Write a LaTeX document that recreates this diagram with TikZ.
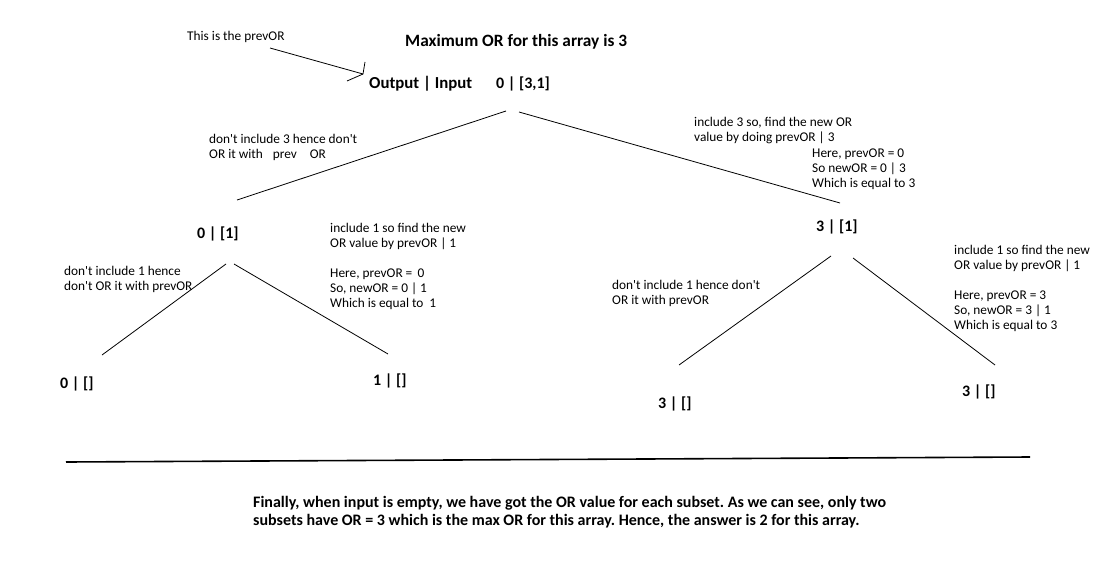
\documentclass[tikz,border=0pt]{standalone}
\usepackage{fontspec}
\setmainfont{Carlito}[Ligatures=TeXOff]
\frenchspacing
\begin{document}
\begin{tikzpicture}[x=1pt,y=-1pt,
  note/.style={anchor=base west,inner sep=0pt,align=left,font=\fontsize{13.33}{15}\selectfont},
  lbl/.style={anchor=base west,inner sep=0pt,font=\fontsize{16}{19}\selectfont\bfseries},
  titlestyle/.style={anchor=base west,inner sep=0pt,font=\fontsize{17.3}{20}\selectfont\bfseries},
  bottomstyle/.style={anchor=base west,inner sep=0pt,align=left,font=\fontsize{16}{18}\selectfont\bfseries},
  edge/.style={line width=0.8pt,black},
  rule/.style={line width=1.6pt,black}]
\useasboundingbox (0,0) rectangle (1099,578);
\fill[white] (0,0) rectangle (1099,578);

% texts (multi-line notes are anchored at the baseline of their last line)
\node[note] (prevnote) at (187,41) {This is the prevOR};
\node[titlestyle] (title) at (405,46) {Maximum OR for this array is 3};
\node[lbl,font=\fontsize{16.8}{19}\selectfont\bfseries] (legend) at (369,88) {Output | Input};
\node[lbl] (root) at (496,88) {0 | [3,1]};

\node[lbl] (l1) at (197,238) {0 | [1]};
\node[lbl] (r1) at (816,231) {3 | [1]};
\node[lbl] (ll) at (60,388) {0 | []};
\node[lbl] (lr) at (373,385) {1 | []};
\node[lbl] (rl) at (658,408) {3 | []};
\node[lbl] (rr) at (962,396) {3 | []};

\node[note] (noteA) at (209,158) {don't include 3 hence don't\\OR it with\hspace{10pt}prev\hspace{13pt}OR};
\node[note] (noteB) at (330,307) {include 1 so find the new\\OR value by prevOR | 1\\[15pt]Here, prevOR = \,0\\So, newOR = 0 | 1\\Which is equal to\hspace{6pt}1};
\node[note] (noteC) at (694,141) {include 3 so, find the new OR\\value by doing prevOR | 3};
\node[note] (noteD) at (812,187) {Here, prevOR = 0\\So newOR = 0 | 3\\Which is equal to 3};
\node[note] (noteE) at (64,290) {don't include 1 hence\\don't OR it with prevOR};
\node[note] (noteF) at (612,304) {don't include 1 hence don't\\OR it with prevOR};
\node[note] (noteG) at (954,329) {include 1 so find the new\\OR value by prevOR | 1\\[15pt]Here, prevOR = 3\\So, newOR = 3 | 1\\Which is equal to 3};

\node[bottomstyle] (summary) at (253,525) {Finally, when input is empty, we have got the OR value for each subset. As we can see, only two\\subsets have OR = 3 which is the max OR for this array. Hence, the answer is 2 for this array.};

% connector end points
\coordinate (aS) at (270,48);
\coordinate (aT) at (363,74);
\coordinate (aH1) at (365,62);
\coordinate (aH2) at (347,81);
\coordinate (rL0) at (506,111);
\coordinate (rL1) at (237,200);
\coordinate (rR0) at (519,112);
\coordinate (rR1) at (840,203);
\coordinate (lL0) at (226,264);
\coordinate (lL1) at (102,355);
\coordinate (lR0) at (234,264);
\coordinate (lR1) at (388,354);
\coordinate (gL0) at (831,256);
\coordinate (gL1) at (679,365);
\coordinate (gR0) at (853,258);
\coordinate (gR1) at (995,365);
\coordinate (hA) at (66,462);
\coordinate (hB) at (1030,457);

\draw[edge] (aS) -- (aT);
\draw[edge] (aH1) -- (aT) -- (aH2);
\draw[edge] (rL0) -- (rL1);
\draw[edge] (rR0) -- (rR1);
\draw[edge] (lL0) -- (lL1);
\draw[edge] (lR0) -- (lR1);
\draw[edge] (gL0) -- (gL1);
\draw[edge] (gR0) -- (gR1);
\draw[rule] (hA) -- (hB);
\end{tikzpicture}
\end{document}
